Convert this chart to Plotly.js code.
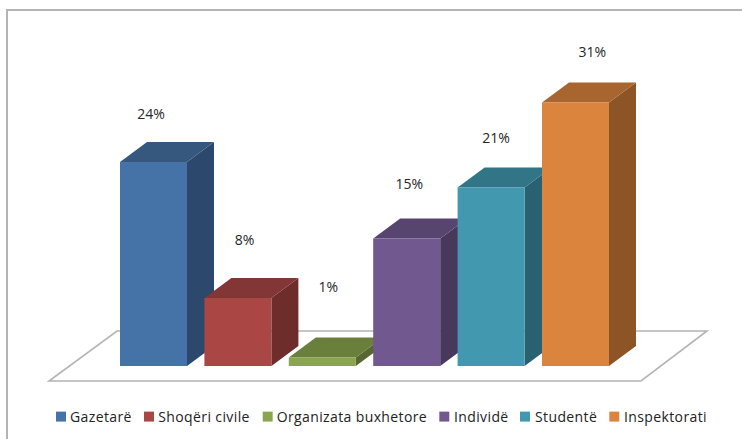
<!DOCTYPE html>
<html><head><meta charset="utf-8">
<script src="https://cdn.plot.ly/plotly-3.0.1.min.js"></script>
<style>html,body{margin:0;padding:0;background:#fff}.legendtext{letter-spacing:.38px}</style></head>
<body><div id="chart" style="width:742px;height:439px"></div>
<script>
const categories = ['Gazetarë','Shoqëri civile','Organizata buxhetore','Individë','Studentë','Inspektorati'];
const values = [24, 8, 1, 15, 21, 31];
const frontColors = ['#4572a7','#aa4643','#89a54e','#71588f','#4198af','#db843d'];
const topColors   = ['#36587f','#823635','#6a7f3c','#57446f','#327587','#a9652f'];
const sideColors  = ['#2c486c','#6e2c2b','#586732','#48395c','#2a6170','#8d5426'];
const labelOffsetX = [-0.03, 0.08, 0.07, 0.03, 0.06, 0.2];
const labelOffsetY = [5.5, 6.6, 8.1, 6.2, 5.6, 5.8];
const legendSwatchCenter = [61, 149, 267.7, 444.3, 525, 614.3];
const legendTextStart = [70, 158.3, 276.7, 454, 535, 624];

const W = 742, H = 439, pitch = 84.4, x0 = 153.5, base = 366, unit = 8.5;
const xRange = [-x0/pitch, (W-x0)/pitch];
const yRange = [(base-H)/unit, base/unit];
const half = 67/pitch/2, dx = 27/pitch, dy = 20/unit;
const px = v => v/W, py = v => 1-v/H;

const traces = [];
values.forEach((v,i) => {
  const l = i-half, r = i+half;
  traces.push({type:'scatter',mode:'lines',fill:'toself',fillcolor:sideColors[i],line:{width:0},hoverinfo:'skip',showlegend:false,
    x:[r,r+dx,r+dx,r,r], y:[0,dy,v+dy,v,0]});
  traces.push({type:'scatter',mode:'lines',fill:'toself',fillcolor:topColors[i],line:{width:0},hoverinfo:'skip',showlegend:false,
    x:[l,r,r+dx,l+dx,l], y:[v,v,v+dy,v+dy,v]});
});
traces.push({type:'scatter',mode:'text',showlegend:false,hoverinfo:'skip',cliponaxis:false,
  x:categories.map((c,i)=>i+labelOffsetX[i]), y:values.map((v,i)=>v+labelOffsetY[i]),
  text:values.map(v=>v+'%'), textfont:{family:'Open Sans, sans-serif',size:14,color:'#262626'}});
values.forEach((v,i) => {
  traces.push({type:'bar',name:categories[i],x:[categories[i]],y:[v],width:[67/pitch],xaxis:'x2',yaxis:'y2',
    marker:{color:frontColors[i],line:{width:0}}});
});

const hidden = {showgrid:false,zeroline:false,showticklabels:false,ticks:'',showline:false,fixedrange:true};
const layout = {
  width:W,height:H,margin:{l:0,r:0,t:0,b:0,autoexpand:false},paper_bgcolor:'#fff',plot_bgcolor:'rgba(0,0,0,0)',
  barmode:'overlay',
  xaxis:Object.assign({range:xRange,type:'linear'},hidden),
  yaxis:Object.assign({range:yRange},hidden),
  xaxis2:Object.assign({range:xRange,type:'category',overlaying:'x',categoryorder:'array',categoryarray:categories},hidden),
  yaxis2:Object.assign({range:yRange,overlaying:'y'},hidden),
  legend:{orientation:'h',x:20/W,xanchor:'left',y:py(401),yanchor:'top',traceorder:'normal',
    font:{family:'Open Sans, sans-serif',size:14,color:'#222'},itemwidth:30,bgcolor:'rgba(0,0,0,0)',borderwidth:0,itemclick:false,itemdoubleclick:false},
  shapes:[
    {type:'path',xref:'paper',yref:'paper',layer:'below',fillcolor:'#fff',line:{color:'#b4b4b4',width:1.6},
     path:`M${px(49)},${py(381)}L${px(641)},${py(381)}L${px(707)},${py(331)}L${px(117)},${py(331)}Z`},
    {type:'line',xref:'paper',yref:'paper',x0:px(7),x1:px(7),y0:0,y1:py(10),line:{color:'#b4b4b4',width:2}},
    {type:'line',xref:'paper',yref:'paper',x0:px(6),x1:1,y0:py(10),y1:py(10),line:{color:'#b4b4b4',width:2}}
  ]
};
Plotly.newPlot('chart',traces,layout,{displayModeBar:false}).then(gd => {
  // compact the legend to the original's swatch + text spacing, on one row
  const leg = gd.querySelector('.legend');
  const legX = parseFloat(leg.getAttribute('transform').match(/translate\(\s*([-\d.]+)/)[1]);
  const box = leg.querySelector('.scrollbox'); if (box) box.removeAttribute('clip-path');
  leg.removeAttribute('clip-path');
  let rowY = null;
  gd.querySelectorAll('.legend .traces').forEach((g,i) => {
    const y = (g.getAttribute('transform').match(/,\s*([-\d.]+)\)/)||[0,0])[1];
    if (rowY === null) rowY = y;
    const txt = g.querySelector('.legendtext');
    const tx = parseFloat(txt.getAttribute('x'))||0;
    const gx = legendTextStart[i]-legX-tx;
    g.setAttribute('transform',`translate(${gx},${rowY})`);
    g.querySelectorAll('.legendpoints path').forEach(p =>
      p.setAttribute('transform',`translate(${legendSwatchCenter[i]-legX-gx},0) scale(0.83)`));
    const toggle = g.querySelector('.legendtoggle'); if (toggle) toggle.style.display='none';
  });
});
</script></body></html>
